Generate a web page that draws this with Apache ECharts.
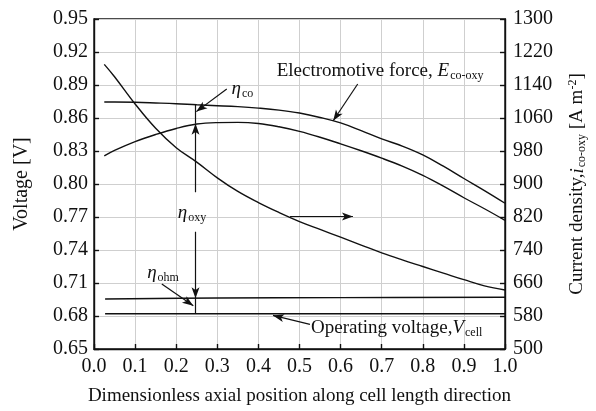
<!DOCTYPE html>
<html>
<head>
<meta charset="utf-8">
<script src="https://cdn.jsdelivr.net/npm/echarts@6/dist/echarts.min.js"></script>
<style>
  html, body { margin: 0; padding: 0; background: #fff; }
  #chart { width: 596px; height: 411px; }
</style>
</head>
<body>
<div id="chart"></div>
<script>
// axial positions (dimensionless)
const xPos = [0.025, 0.05, 0.1, 0.15, 0.2, 0.25, 0.3, 0.35, 0.4, 0.45, 0.5,
              0.55, 0.6, 0.65, 0.7, 0.75, 0.8, 0.85, 0.9, 0.95, 1.0];
// electromotive force E_co-oxy [V]
const emf = [0.8745, 0.8745, 0.8743, 0.8737, 0.873, 0.872, 0.8712, 0.8703, 0.869, 0.8672, 0.8645,
             0.8605, 0.8555, 0.8485, 0.841, 0.8345, 0.8265, 0.8162, 0.805, 0.794, 0.7825];
// voltage after CO overpotential [V]
const afterCo = [0.8255, 0.8305, 0.8385, 0.845, 0.8505, 0.8545, 0.8558, 0.856, 0.855, 0.852, 0.8478,
                 0.8425, 0.8365, 0.8302, 0.8235, 0.8162, 0.8078, 0.798, 0.7875, 0.7775, 0.767];
// current density i_co-oxy [A m-2]
const currentDensity = [1190, 1160, 1094, 1035, 988, 953, 915, 882, 855, 831, 809,
                        790, 771, 752, 733, 716, 700, 684, 668, 653, 643];
// ohmic line and cell voltage [V]
const ohmX = [0.027, 0.3, 0.6, 1.0];
const ohmV = [0.6955, 0.6963, 0.6967, 0.697];
const cellX = [0.027, 1.0];
const cellV = [0.682, 0.682];

const xTicks = [0, 1, 0.1];
const vTicks = [0.65, 0.95, 0.03];
const iTicks = [500, 1300, 80];

const FONT = 'Liberation Serif';
const INK = '#111';

const zip = (xs, ys) => xs.map((x, k) => [x, ys[k]]);

const rich = {
  n: { fontFamily: FONT, fontSize: 19, color: INK },
  it: { fontFamily: FONT, fontSize: 19, color: INK, fontStyle: 'italic' },
  sub: { fontFamily: FONT, fontSize: 12, color: INK, padding: [9, 0, 0, 1] },
  sup: { fontFamily: FONT, fontSize: 12, color: INK, padding: [0, 0, 9, 0] }
};

// annotation texts [x, V, text]
const notes = [
  [0.361, 0.8864, '{it|η}{sub|co}'],
  [0.696, 0.9025, '{n|Electromotive force, }{it|E}{sub|co-oxy}'],
  [0.2384, 0.7735, '{it|η}{sub|oxy}'],
  [0.168, 0.7192, '{it|η}{sub|ohm}'],
  [0.7365, 0.6688, '{n|Operating voltage,}{it|V}{sub|cell}']
];

// arrows [[x1, V1], [x2, V2], arrowAtEnd]
const xArr = 0.247;
const arrows = [
  [[0.323, 0.8864], [0.249, 0.8658], true],
  [[0.6416, 0.8909], [0.582, 0.8575], true],
  [[0.477, 0.7705], [0.63, 0.7705], true],
  [[0.165, 0.709], [0.2416, 0.6894], true],
  [[0.5255, 0.6724], [0.4355, 0.6805], true],
  [[xArr, 0.872], [xArr, 0.8548], false],
  [[xArr, 0.7925], [xArr, 0.8548], true],
  [[xArr, 0.7566], [xArr, 0.6962], true],
  [[xArr, 0.6962], [xArr, 0.682], false]
];

const chart = echarts.init(document.getElementById('chart'));

const curve = (name, data, yAxisIndex) => ({
  name, type: 'line', data, yAxisIndex,
  symbol: 'none', smooth: 0.4,
  lineStyle: { color: INK, width: 1.4 },
  silent: true, animation: false
});

const option = {
  backgroundColor: '#fff',
  animation: false,
  grid: { left: 94, right: 91, top: 19, bottom: 57, show: true,
          borderColor: INK, borderWidth: 1.4, backgroundColor: 'transparent' },
  xAxis: {
    type: 'value', min: xTicks[0], max: xTicks[1], interval: xTicks[2],
    name: 'Dimensionless axial position along cell length direction',
    nameLocation: 'middle', nameGap: 38,
    nameTextStyle: { fontFamily: FONT, fontSize: 19, color: INK },
    axisLine: { lineStyle: { color: INK, width: 1.4 } },
    axisTick: { inside: true, length: 5, lineStyle: { color: INK, width: 1.4 } },
    axisLabel: { fontFamily: FONT, fontSize: 20, color: INK, margin: 8,
                 formatter: v => v.toFixed(1) },
    splitLine: { lineStyle: { color: '#cfcfcf', width: 1 } }
  },
  yAxis: [
    {
      type: 'value', min: vTicks[0], max: vTicks[1], interval: vTicks[2],
      name: 'Voltage [V]', nameLocation: 'middle', nameGap: 62, nameRotate: 90,
      nameTextStyle: { fontFamily: FONT, fontSize: 20, color: INK },
      axisLine: { show: true, lineStyle: { color: INK, width: 1.4 } },
      axisTick: { show: true, inside: true, length: 5, lineStyle: { color: INK, width: 1.4 } },
      axisLabel: { fontFamily: FONT, fontSize: 20, color: INK, margin: 6,
                   formatter: v => v.toFixed(2) },
      splitLine: { lineStyle: { color: '#cfcfcf', width: 1 } }
    },
    {
      type: 'value', position: 'right', min: iTicks[0], max: iTicks[1], interval: iTicks[2],
      name: '{n|Current density,}{it|i}{sub|co-oxy}{n| [A m}{sup|-2}{n|]}',
      nameLocation: 'middle', nameGap: 62, nameRotate: 90,
      nameTextStyle: { fontFamily: FONT, fontSize: 19, color: INK, rich },
      axisLine: { show: true, lineStyle: { color: INK, width: 1.4 } },
      axisTick: { show: true, inside: true, length: 5, lineStyle: { color: INK, width: 1.4 } },
      axisLabel: { fontFamily: FONT, fontSize: 20, color: INK, margin: 8,
                   formatter: v => String(v) },
      splitLine: { show: false }
    }
  ],
  series: [
    curve('emf', zip(xPos, emf), 0),
    curve('afterCo', zip(xPos, afterCo), 0),
    curve('currentDensity', zip(xPos, currentDensity), 1),
    curve('ohm', zip(ohmX, ohmV), 0),
    Object.assign(curve('cell', zip(cellX, cellV), 0), {
      markLine: {
        silent: true, animation: false,
        lineStyle: { color: INK, width: 1.2, type: 'solid' },
        label: { show: false },
        data: arrows.map(([a, b, head]) => [
          { coord: a, symbol: 'none' },
          { coord: b, symbol: head ? 'arrow' : 'none', symbolSize: [6, 11] }
        ])
      }
    }),
    {
      name: 'notes', type: 'scatter', yAxisIndex: 0, silent: true,
      symbolSize: 0,
      label: { show: true, position: 'inside', rich, color: INK,
               textBorderWidth: 0, opacity: 1,
               formatter: p => p.data[2] },
      data: notes
    }
  ]
};

chart.setOption(option);
</script>
</body>
</html>
